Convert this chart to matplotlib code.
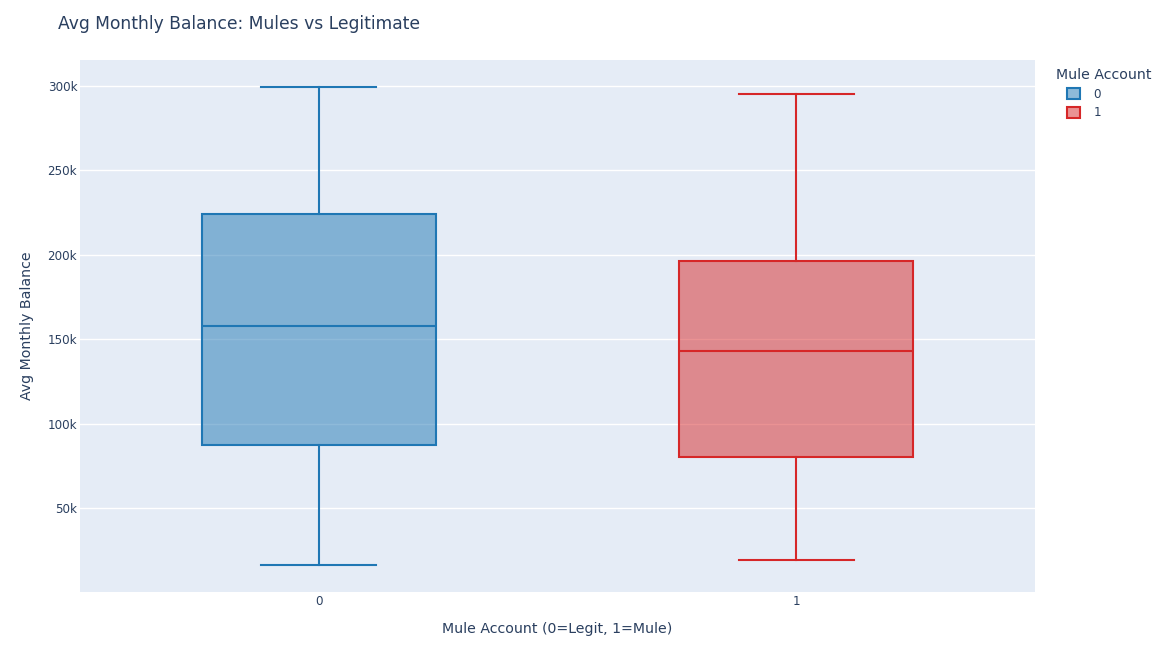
import matplotlib
matplotlib.use("Agg")
import matplotlib.pyplot as plt
from matplotlib.patches import Patch
from matplotlib.ticker import FuncFormatter

# box statistics (values in currency units)
groups = ["0", "1"]
whislo = [16200, 19300]
q1 = [87200, 80300]
med = [158000, 143000]
q3 = [223800, 196300]
whishi = [299500, 295100]
colors = ["#1f77b4", "#d62728"]

yticks = [50000, 100000, 150000, 200000, 250000, 300000]

TXT = "#2a3f5f"
BG = "#E5ECF6"
plt.rcParams["font.family"] = ["DejaVu Sans"]

W, H = 1164, 672
fig = plt.figure(figsize=(W / 100, H / 100), dpi=100)
ax = fig.add_axes([80 / W, (H - 592) / H, 955 / W, 532 / H])
ax.set_facecolor(BG)
for s in ax.spines.values():
    s.set_visible(False)

stats = []
for i, g in enumerate(groups):
    stats.append(dict(label=g, whislo=whislo[i], q1=q1[i], med=med[i],
                      q3=q3[i], whishi=whishi[i], fliers=[]))

for i, st in enumerate(stats):
    c = colors[i]
    ax.bxp([st], positions=[i], widths=0.49, capwidths=0.24, patch_artist=True,
           showfliers=False,
           boxprops=dict(facecolor=matplotlib.colors.to_rgba(c, 0.5), edgecolor=c, linewidth=1.5),
           medianprops=dict(color=c, linewidth=1.5),
           whiskerprops=dict(color=c, linewidth=1.5),
           capprops=dict(color=c, linewidth=1.5),
           zorder=3)

ax.set_xlim(-0.5, 1.5)
ax.set_ylim(400, 315200)
ax.set_xticks([0, 1])
ax.set_xticklabels(groups)
ax.set_yticks(yticks)
ax.yaxis.set_major_formatter(FuncFormatter(lambda v, p: f"{int(v / 1000)}k"))
ax.grid(axis="y", color="white", linewidth=1, zorder=0)
ax.set_axisbelow(True)
ax.tick_params(axis="both", length=0, labelsize=8.6, labelcolor=TXT)
ax.tick_params(axis="y", pad=2)
ax.tick_params(axis="x", pad=2)

ax.set_xlabel("Mule Account (0=Legit, 1=Mule)", fontsize=10.2, color=TXT, labelpad=10.5)
ax.set_ylabel("Avg Monthly Balance", fontsize=10.2, color=TXT, labelpad=10)

fig.text(58 / W, 1 - 24 / H, "Avg Monthly Balance: Mules vs Legitimate",
         fontsize=12.3, color=TXT, ha="left", va="center")

# legend: title as its own text, items indented under it
fig.text(1056 / W, 1 - 75 / H, "Mule Account", fontsize=10.2, color=TXT,
         ha="left", va="center")
handles = [Patch(facecolor=matplotlib.colors.to_rgba(c, 0.5), edgecolor=c, linewidth=1.5)
           for c in colors]
leg = fig.legend(handles, groups, loc="upper left",
                 bbox_to_anchor=(1067 / W, 1 - 87.5 / H), frameon=False,
                 fontsize=8.6, handlelength=1.05, handleheight=1.05,
                 handletextpad=1.15, labelspacing=0.5, borderaxespad=0, borderpad=0)
for t in leg.get_texts():
    t.set_color(TXT)

fig.savefig("out.png", dpi=100)
